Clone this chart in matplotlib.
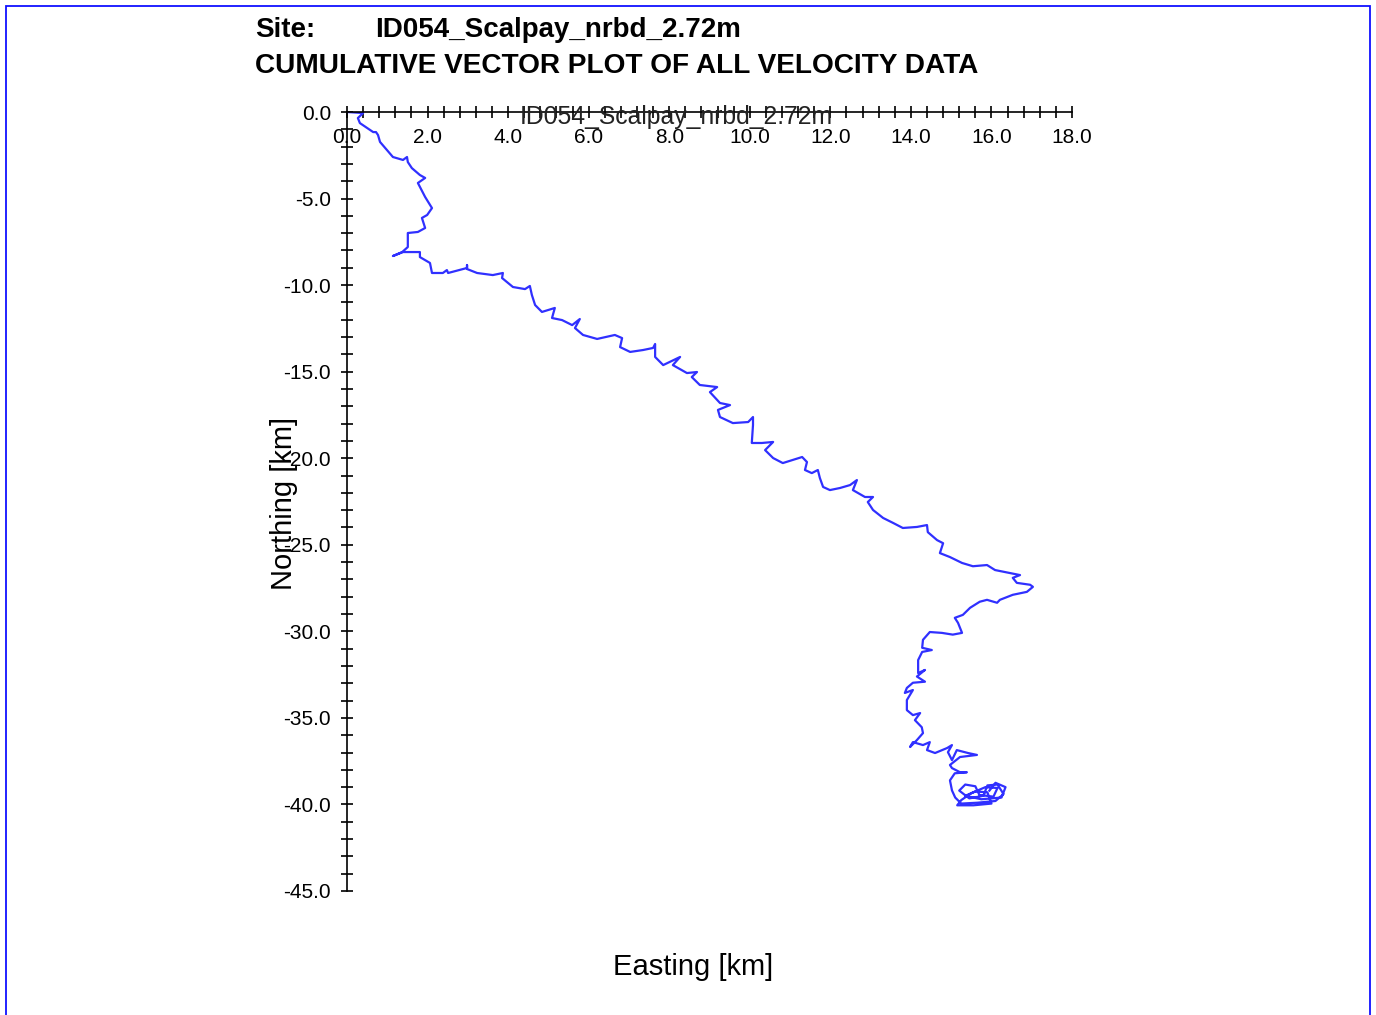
import matplotlib
matplotlib.use("Agg")
import matplotlib.pyplot as plt
from matplotlib.patches import Rectangle
from matplotlib.ticker import MultipleLocator, FormatStrFormatter
from matplotlib.transforms import blended_transform_factory

plt.rcParams['font.family'] = ['Liberation Sans', 'DejaVu Sans']
plt.rcParams['axes.unicode_minus'] = False

site_name = "ID054_Scalpay_nrbd_2.72m"
title_line = "CUMULATIVE VECTOR PLOT OF ALL VELOCITY DATA"

# cumulative displacement (km)
easting = [
    0.00, 0.40, 0.27, 0.32, 0.65, 0.72, 0.77, 0.82, 1.14, 1.39, 1.49, 1.51, 1.61, 1.81, 1.94, 1.76,
    1.94, 2.11, 1.99, 1.86, 1.94, 1.76, 1.51, 1.51, 1.37, 1.14, 1.39, 1.81, 1.81, 2.06, 2.11, 2.38,
    2.48, 2.51, 2.98, 2.98, 2.98, 3.23, 3.62, 3.87, 3.85, 4.12, 4.42, 4.54, 4.59, 4.67, 4.84, 5.16,
    5.09, 5.34, 5.59, 5.78, 5.66, 5.86, 6.21, 6.65, 6.83, 6.78, 7.03, 7.35, 7.60, 7.65, 7.65, 7.85,
    8.27, 8.09, 8.44, 8.69, 8.56, 8.76, 9.19, 9.01, 9.26, 9.51, 9.21, 9.26, 9.58, 9.96, 10.08, 10.08,
    10.05, 10.30, 10.58, 10.38, 10.58, 10.82, 11.07, 11.30, 11.42, 11.37, 11.54, 11.69, 11.74, 11.82,
    11.99, 12.24, 12.49, 12.66, 12.56, 12.86, 13.06, 12.93, 13.06, 13.31, 13.56, 13.80, 14.15, 14.40,
    14.42, 14.65, 14.80, 14.72, 14.97, 15.27, 15.54, 15.89, 16.09, 16.46, 16.71, 16.53, 16.63, 16.96,
    17.03, 16.88, 16.53, 16.21, 16.14, 15.89, 15.71, 15.47, 15.29, 15.09, 15.17, 15.27, 15.04, 14.77,
    14.47, 14.30, 14.28, 14.52, 14.28, 14.18, 14.18, 14.35, 14.15, 14.35, 14.05, 13.90, 13.85, 14.05,
    13.90, 13.90, 14.05, 14.23, 14.10, 14.27, 14.30, 14.15, 13.98, 14.05, 14.30, 14.47, 14.40, 14.60,
    14.90, 15.02, 14.92, 15.02, 15.14, 15.42, 15.64, 15.22, 14.97, 15.02, 15.22, 15.39, 15.09, 14.97,
    15.02, 15.10, 15.25, 15.65, 16.10, 16.30, 16.15, 15.90, 15.80, 15.45, 15.20, 15.35, 15.60, 15.70,
    16.05, 16.15, 15.85, 15.50, 15.25, 15.15, 15.55, 16.00, 15.90, 15.60, 15.35, 15.75, 16.25, 16.35,
    16.10, 15.95,
]
northing = [
    0.00, -0.06, -0.35, -0.64, -1.16, -1.16, -1.33, -1.73, -2.60, -2.77, -2.60, -2.89, -3.24, -3.64,
    -3.81, -4.10, -4.91, -5.55, -5.95, -6.12, -6.70, -6.93, -6.99, -7.80, -8.09, -8.32, -8.09, -8.09,
    -8.38, -8.72, -9.30, -9.30, -9.13, -9.30, -9.01, -8.84, -9.07, -9.30, -9.42, -9.30, -9.59, -10.11,
    -10.23, -10.05, -10.57, -11.15, -11.55, -11.32, -11.90, -12.02, -12.31, -11.96, -12.48, -12.88,
    -13.11, -12.88, -13.06, -13.58, -13.86, -13.75, -13.63, -13.40, -14.15, -14.62, -14.15, -14.62,
    -15.08, -15.02, -15.31, -15.77, -15.89, -16.18, -16.81, -16.93, -17.21, -17.62, -17.97, -17.91,
    -17.62, -18.08, -19.12, -19.12, -19.06, -19.53, -19.99, -20.28, -20.10, -19.93, -20.22, -20.68,
    -20.86, -20.68, -21.14, -21.66, -21.84, -21.72, -21.55, -21.26, -21.84, -22.24, -22.24, -22.53,
    -22.99, -23.45, -23.74, -24.03, -23.97, -23.86, -24.27, -24.73, -24.91, -25.48, -25.71, -26.05,
    -26.24, -26.17, -26.46, -26.63, -26.75, -26.91, -27.20, -27.31, -27.43, -27.72, -27.89, -28.18,
    -28.35, -28.18, -28.29, -28.64, -29.05, -29.22, -29.51, -30.09, -30.19, -30.09, -30.04, -30.49,
    -30.95, -31.08, -31.19, -31.66, -32.41, -32.23, -32.61, -32.91, -32.97, -33.27, -33.56, -33.39,
    -33.97, -34.55, -34.84, -34.72, -35.13, -35.54, -35.88, -36.28, -36.68, -36.40, -36.57, -36.40,
    -36.86, -37.03, -36.74, -36.57, -36.98, -37.44, -36.86, -37.03, -37.14, -37.26, -37.72, -37.90,
    -38.14, -38.14, -38.20, -38.61, -39.19, -39.60, -39.95, -39.90, -39.80, -39.40, -38.85, -38.90,
    -39.50, -39.65, -39.20, -38.85, -38.95, -39.45, -39.55, -39.05, -39.00, -39.35, -39.75, -40.05,
    -40.05, -39.95, -39.30, -39.25, -39.50, -39.70, -39.60, -39.00, -38.75, -39.20,
]

xlim = (0.0, 18.0)
ylim = (-45.0, 0.0)

W, H = 1376, 1015
fig = plt.figure(figsize=(W / 100, H / 100), dpi=100)

# outer blue frame
fig.patches.append(Rectangle((6 / W, -0.05), (1370 - 6) / W, 1.05 - 6 / H,
                             transform=fig.transFigure, fill=False,
                             edgecolor='#1010ff', linewidth=1.3))

ax = fig.add_axes([347 / W, 1 - 891 / H, 725 / W, 779 / H])
ax.plot(easting, northing, color='#3030ff', linewidth=1.6, solid_joinstyle='round')
ax.set_xlim(*xlim)
ax.set_ylim(*ylim)

for s in ('top', 'right'):
    ax.spines[s].set_visible(False)
ax.spines['bottom'].set_position(('data', 0.0))
for s in ('left', 'bottom'):
    ax.spines[s].set_linewidth(1.2)
    ax.spines[s].set_color('black')

ax.xaxis.set_major_locator(MultipleLocator(2.0))
ax.xaxis.set_minor_locator(MultipleLocator(0.4))
ax.yaxis.set_major_locator(MultipleLocator(5.0))
ax.yaxis.set_minor_locator(MultipleLocator(1.0))
ax.xaxis.set_major_formatter(FormatStrFormatter('%.1f'))
ax.yaxis.set_major_formatter(FormatStrFormatter('%.1f'))
ax.tick_params(axis='both', which='both', direction='inout', length=9, width=1.2, colors='black')
ax.tick_params(axis='x', which='major', pad=7, labelsize=15)
ax.tick_params(axis='y', which='major', pad=7, labelsize=15)

inner = blended_transform_factory(ax.transAxes, ax.transData)
ax.text(0.454, -0.3, site_name, transform=inner, ha='center', va='center',
        fontsize=17.8, color='#222222')

fig.text(284 / W, 1 - 503 / H, "Northing [km]", rotation=90, ha='center', va='center', fontsize=21)
fig.text(693 / W, 1 - 967 / H, "Easting [km]", ha='center', va='center', fontsize=21)

fig.text(255 / W, 1 - 30 / H, "Site:", ha='left', va='center', fontsize=20, fontweight='bold')
fig.text(375 / W, 1 - 30 / H, site_name, ha='left', va='center', fontsize=20, fontweight='bold')
fig.text(255 / W, 1 - 66 / H, title_line, ha='left', va='center', fontsize=20.2, fontweight='bold')

fig.savefig("out.png", dpi=100)
